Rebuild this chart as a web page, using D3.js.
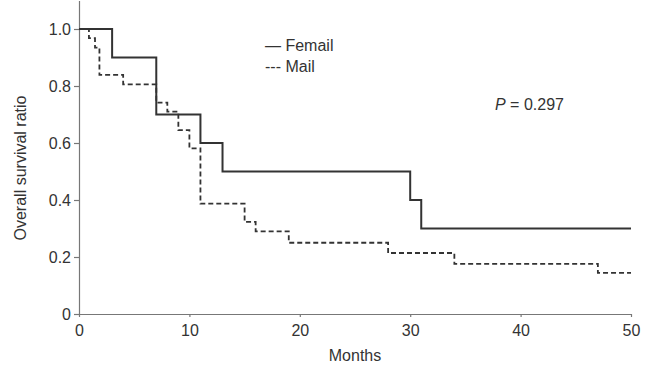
<!DOCTYPE html>
<html>
<head>
<meta charset="utf-8">
<script src="https://cdn.jsdelivr.net/npm/d3@7"></script>
<style>
  body { margin: 0; background: #fff; }
  svg { display: block; font-family: "Liberation Sans", Arial, sans-serif; }
</style>
</head>
<body>
<div id="chart"></div>
<script>
  // Kaplan-Meier steps
  var femaleMonths = [0, 3, 7, 11, 13, 30, 31, 50];
  var femaleSurv   = [1, 0.9, 0.7, 0.6, 0.5, 0.4, 0.3, 0.3];

  var maleMonths = [0, 0.9, 1.45, 1.85, 4, 7, 8, 9, 10, 11, 15, 16, 19, 28, 34, 47, 50];
  var maleSurv   = [1, 0.968, 0.935, 0.839, 0.806, 0.742, 0.71, 0.645, 0.581, 0.387, 0.323, 0.29, 0.25, 0.214, 0.176, 0.144, 0.144];

  var xTicks = [0, 10, 20, 30, 40, 50];
  var yTicks = [0, 0.2, 0.4, 0.6, 0.8, 1.0];
  var legendLabels = ["Femail", "Mail"];

  var W = 654, H = 369;
  var ink = "#333";

  var svg = d3.select("#chart").append("svg")
      .attr("width", W)
      .attr("height", H);

  var x = d3.scaleLinear().domain([0, 50]).range([79, 631]);
  var y = d3.scaleLinear().domain([0, 1.1]).range([314, 0.5]);

  // axes
  svg.append("g")
      .attr("transform", "translate(0," + y(0) + ")")
      .call(d3.axisBottom(x).tickValues(xTicks).tickSize(3).tickPadding(8).tickSizeOuter(0));

  svg.append("g")
      .attr("transform", "translate(" + x(0) + ",0)")
      .call(d3.axisLeft(y).tickValues(yTicks).tickSize(5).tickPadding(3).tickSizeOuter(0)
        .tickFormat(function(d) { return d === 0 ? "0" : d3.format(".1f")(d); }));

  svg.selectAll(".domain, .tick line").attr("stroke", "#777").attr("stroke-width", 1.2);
  svg.selectAll(".tick text")
      .attr("fill", ink)
      .style("font-size", "16px")
      .style("font-family", "Liberation Sans, Arial, sans-serif");

  // axis titles
  svg.append("text")
      .attr("x", (x(0) + x(50)) / 2)
      .attr("y", 361)
      .attr("text-anchor", "middle")
      .attr("fill", ink)
      .style("font-size", "16px")
      .text("Months");

  svg.append("text")
      .attr("transform", "translate(26," + 168 + ") rotate(-90)")
      .attr("text-anchor", "middle")
      .attr("fill", ink)
      .style("font-size", "16px")
      .text("Overall survival ratio");

  // survival curves
  var step = d3.line()
      .x(function(d) { return x(d[0]); })
      .y(function(d) { return y(d[1]); })
      .curve(d3.curveStepAfter);

  var female = d3.zip(femaleMonths, femaleSurv);
  var male = d3.zip(maleMonths, maleSurv);

  svg.append("path")
      .datum(male)
      .attr("d", step)
      .attr("fill", "none")
      .attr("stroke", ink)
      .attr("stroke-width", 1.8)
      .attr("stroke-dasharray", "5,3");

  svg.append("path")
      .datum(female)
      .attr("d", step)
      .attr("fill", "none")
      .attr("stroke", ink)
      .attr("stroke-width", 2);

  // legend
  var legend = svg.append("g").attr("transform", "translate(265,0)");
  legend.append("text")
      .attr("x", 0).attr("y", 51)
      .attr("fill", ink)
      .style("font-size", "16px")
      .text("\u2014 " + legendLabels[0]);
  legend.append("text")
      .attr("x", 0).attr("y", 72)
      .attr("fill", ink)
      .style("font-size", "16px")
      .text("--- " + legendLabels[1]);

  // p value
  var p = svg.append("text")
      .attr("x", 495).attr("y", 110)
      .attr("fill", ink)
      .style("font-size", "16px");
  p.append("tspan").style("font-style", "italic").text("P");
  p.append("tspan").text(" = 0.297");
</script>
</body>
</html>
